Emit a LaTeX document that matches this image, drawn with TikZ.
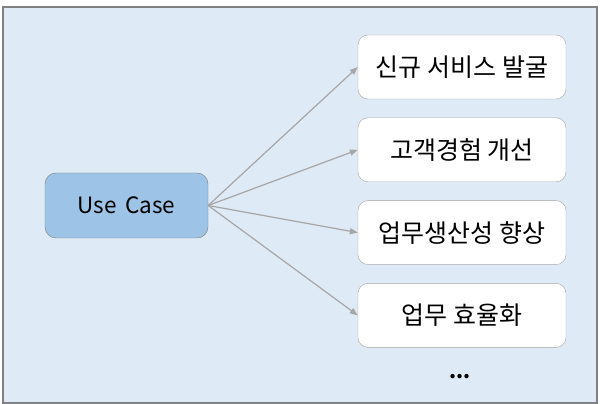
\documentclass[tikz,border=0pt]{standalone}
\usepackage{fontspec}
\setmainfont{Noto Sans CJK KR}
\usetikzlibrary{arrows.meta}

\definecolor{panelbg}{HTML}{DEEAF6}
\definecolor{panelline}{HTML}{808080}
\definecolor{usefill}{HTML}{9DC3E6}
\definecolor{boxline}{HTML}{A6A6A6}

\tikzset{
    usecase/.style={draw=panelline, fill=usefill, rounded corners=11pt,
        minimum width=163pt, minimum height=65pt, font=\fontsize{22.5}{26}\selectfont},
    goal/.style={draw=boxline, fill=white, rounded corners=10pt,
        minimum width=208pt, minimum height=64pt, font=\fontsize{25}{30}\selectfont},
    link/.style={draw=boxline, line width=1.2pt,
        -{Triangle[length=8pt,width=6pt]}}
}

\begin{document}
\begin{tikzpicture}[x=1pt, y=1pt]

    \useasboundingbox (0,0) rectangle (600,404);
    \draw[draw=panelline, fill=panelbg, line width=1.2pt] (3,1) rectangle (597,397);

    \node[usecase] (uc) at (126.5,198.5) {Use\hspace{0.15em} Case};

    \foreach \i/\txt in {0/신규 서비스 발굴,1/고객경험 개선,2/업무생산성 향상,3/업무 효율화}
    {
        \node[goal] (g\i) at (462,337-82.8*\i) {\txt};
        \draw[link] (uc.east) -- (g\i.west);
    }

    \node (more) at (460,27) {\fontsize{20}{24}\selectfont\textbf{...}};

\end{tikzpicture}
\end{document}
